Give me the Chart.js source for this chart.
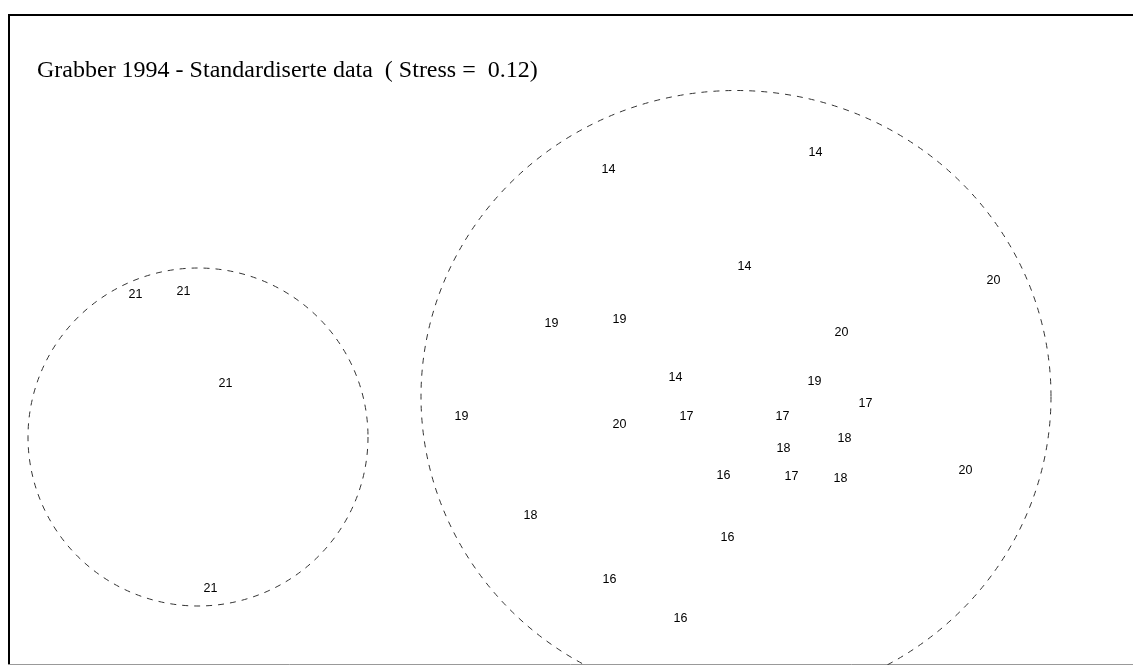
<!DOCTYPE html>
<html>
<head>
<meta charset="utf-8">
<title>Grabber 1994 - MDS</title>
<script src="https://cdn.jsdelivr.net/npm/chart.js@4.4.1/dist/chart.umd.min.js"></script>
<style>
  html, body { margin: 0; padding: 0; background: #fff; }
  #wrap { width: 1133px; height: 667px; }
</style>
</head>
<body>
<div id="wrap"><canvas id="mdsChart"></canvas></div>
<script>
// MDS configuration (units: 1 = 100 px)
const chartTitle = 'Grabber 1994 - Standardiserte data  ( Stress =  0.12)';
const sampleLabels = ['21', '21', '21', '21',
  '14', '14', '14', '20', '19', '19', '20', '14', '19', '17', '19', '20', '17', '17',
  '18', '18', '16', '17', '18', '20', '18', '16', '16', '16'];
const dim1 = [-4.31, -3.83, -3.41, -3.56,
  0.42, 2.49, 1.78, 4.27, -0.15, 0.53, 2.75, 1.09, 2.48, 2.99, -1.05, 0.53, 1.20, 2.16,
  2.78, 2.17, 1.57, 2.25, 2.74, 3.99, -0.36, 1.61, 0.43, 1.14];
const dim2 = [0.39, 0.42, -0.50, -2.55,
  1.64, 1.81, 0.67, 0.53, 0.10, 0.14, 0.01, -0.44, -0.48, -0.70, -0.83, -0.91, -0.83, -0.83,
  -1.05, -1.15, -1.42, -1.43, -1.45, -1.37, -1.82, -2.04, -2.46, -2.85];

// the two dashed groups
const groupX = [-3.685, 1.695];
const groupY = [-1.035, -0.63];
const groupRx = [1.70, 3.15];
const groupRy = [1.69, 3.06];

const points = dim1.map((x, i) => ({ x: x, y: dim2[i] }));

const mdsPlugin = {
  id: 'mdsPlugin',
  beforeDatasetsDraw(chart) {
    const ctx = chart.ctx;
    const a = chart.chartArea;
    const xs = chart.scales.x, ys = chart.scales.y;
    ctx.save();

    // frame
    ctx.strokeStyle = '#000';
    ctx.lineWidth = 2;
    ctx.beginPath();
    ctx.moveTo(a.left + 1, a.bottom);
    ctx.lineTo(a.left + 1, a.top + 1);
    ctx.lineTo(a.right, a.top + 1);
    ctx.stroke();
    ctx.strokeStyle = '#999';
    ctx.lineWidth = 1;
    ctx.beginPath();
    ctx.moveTo(a.left, a.bottom - 0.5);
    ctx.lineTo(a.right, a.bottom - 0.5);
    ctx.stroke();

    // title
    ctx.fillStyle = '#000';
    ctx.font = '24px "Liberation Serif", "Times New Roman", serif';
    ctx.textBaseline = 'alphabetic';
    ctx.textAlign = 'left';
    ctx.fillText(chartTitle, a.left + 29, a.top + 63);

    // dashed groups
    ctx.beginPath();
    ctx.rect(a.left, a.top, a.right - a.left, a.bottom - a.top);
    ctx.clip();
    ctx.strokeStyle = '#333';
    ctx.lineWidth = 1;
    ctx.setLineDash([6, 6]);
    for (let i = 0; i < groupX.length; i++) {
      const cx = xs.getPixelForValue(groupX[i]);
      const cy = ys.getPixelForValue(groupY[i]);
      const rx = Math.abs(xs.getPixelForValue(groupX[i] + groupRx[i]) - cx);
      const ry = Math.abs(ys.getPixelForValue(groupY[i] + groupRy[i]) - cy);
      ctx.beginPath();
      ctx.ellipse(cx, cy, rx, ry, 0, 0, Math.PI * 2);
      ctx.stroke();
    }
    ctx.restore();
  },
  afterDatasetsDraw(chart) {
    const ctx = chart.ctx;
    const meta = chart.getDatasetMeta(0);
    ctx.save();
    ctx.fillStyle = '#000';
    ctx.font = '12.5px "Liberation Sans", Arial, sans-serif';
    ctx.textAlign = 'center';
    ctx.textBaseline = 'middle';
    meta.data.forEach((pt, i) => {
      ctx.fillText(sampleLabels[i], pt.x, pt.y);
    });
    ctx.restore();
  }
};

new Chart(document.getElementById('mdsChart'), {
  type: 'scatter',
  data: {
    datasets: [{
      label: 'Prøver',
      data: points,
      pointRadius: 0,
      pointHoverRadius: 0
    }]
  },
  options: {
    responsive: true,
    maintainAspectRatio: false,
    animation: false,
    events: [],
    layout: { padding: { left: 8, top: 14, right: 0, bottom: 2 } },
    plugins: {
      legend: { display: false },
      tooltip: { enabled: false }
    },
    scales: {
      x: { type: 'linear', display: false, min: -5.585, max: 5.665 },
      y: { type: 'linear', display: false, min: -3.315, max: 3.195 }
    }
  },
  plugins: [mdsPlugin]
});
</script>
</body>
</html>
